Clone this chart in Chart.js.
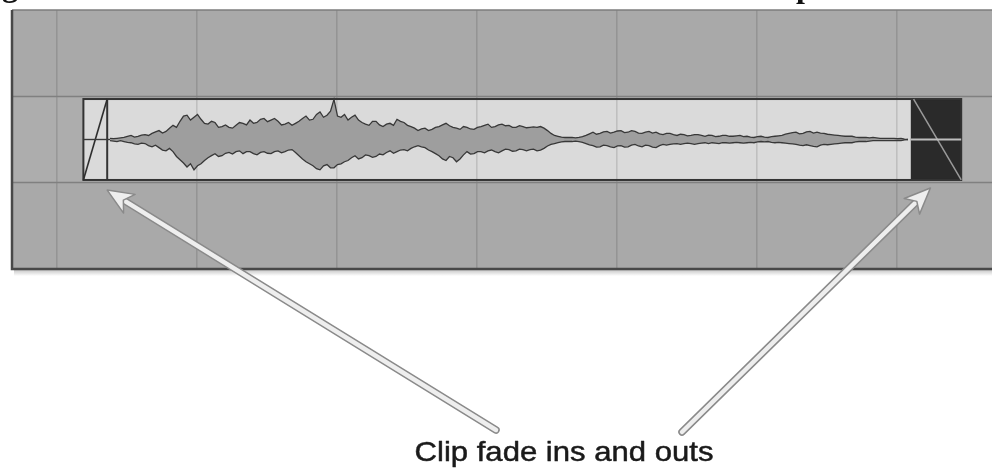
<!DOCTYPE html>
<html>
<head>
<meta charset="utf-8">
<script src="https://cdn.jsdelivr.net/npm/chart.js@4.4.1/dist/chart.umd.min.js"></script>
<style>
  html, body { margin: 0; padding: 0; background: #fff; }
  #wrap { width: 992px; height: 469px; position: relative; }
</style>
</head>
<body>
<div id="wrap"><canvas id="clipChart"></canvas></div>
<script>
// timeline in bars, level in % of clip half-height
const barLines = [1, 2, 3, 4, 5, 6, 7];
const viewStart = 0.68;
const viewEnd = 7.68;
const clipStart = 1.19;
const fadeInEnd = 1.36;
const fadeOutStart = 7.10;
const clipEnd = 7.46;
const trackEdge = 106;

// waveform envelope, one sample every 0.025 bar from waveStart
const waveStart = 1.38;
const waveStep = 0.025;
const waveUpper = [
    3, 2, 3, 4, 5, 8, 10, 6, 8, 11, 12, 10, 15, 19, 22, 16, 20, 28, 35, 30,
    45, 58, 60, 48, 55, 62, 50, 40, 38, 45, 42, 30, 32, 36, 30, 28, 35, 42, 40, 36,
    48, 40, 42, 50, 52, 44, 48, 52, 45, 36, 38, 42, 35, 40, 45, 52, 58, 48, 50, 62,
    68, 55, 60, 70, 99, 58, 55, 62, 48, 55, 60, 48, 42, 38, 35, 45, 45, 36, 32, 38,
    40, 35, 50, 45, 42, 35, 32, 28, 22, 26, 28, 22, 25, 30, 32, 36, 40, 34, 30, 28,
    25, 32, 30, 26, 25, 30, 32, 35, 38, 30, 32, 36, 38, 34, 35, 30, 30, 34, 32, 29,
    30, 31, 30, 32, 28, 22, 15, 10, 8, 6, 5, 5, 5, 4, 5, 7, 10, 14, 18, 13,
    15, 19, 20, 16, 18, 21, 22, 17, 18, 22, 20, 16, 15, 18, 20, 16, 18, 14, 12, 15,
    15, 12, 10, 13, 12, 9, 10, 12, 12, 10, 8, 11, 10, 7, 8, 10, 10, 8, 8, 9,
    10, 7, 8, 6, 5, 7, 8, 6, 5, 7, 8, 9, 10, 13, 15, 17, 18, 14, 15, 19,
    20, 16, 18, 16, 15, 13, 12, 11, 10, 9, 8, 8, 8, 6, 5, 5, 5, 4, 5, 4,
    3, 3, 3, 3, 3, 2, 3, 1, 0
];
const waveLower = [
    3, 4, 5, 3, 5, 7, 8, 11, 12, 9, 10, 15, 18, 14, 20, 26, 28, 22, 30, 42,
    50, 58, 68, 60, 75, 65, 60, 52, 45, 40, 35, 42, 40, 34, 32, 36, 30, 28, 35, 30,
    30, 35, 38, 32, 30, 34, 35, 30, 28, 33, 30, 26, 25, 32, 40, 48, 55, 60, 65, 72,
    75, 65, 62, 70, 70, 62, 60, 55, 52, 45, 40, 48, 45, 38, 40, 44, 42, 36, 38, 32,
    28, 34, 30, 26, 25, 28, 22, 18, 15, 18, 20, 26, 30, 35, 40, 48, 52, 42, 45, 55,
    48, 38, 30, 36, 35, 30, 30, 33, 28, 26, 30, 33, 28, 24, 25, 29, 28, 24, 25, 28,
    25, 24, 28, 26, 22, 16, 12, 10, 8, 6, 5, 5, 5, 4, 5, 7, 10, 13, 15, 19,
    18, 14, 15, 18, 20, 16, 15, 19, 18, 14, 12, 16, 18, 14, 15, 19, 20, 15, 12, 14,
    12, 11, 10, 12, 10, 9, 10, 12, 10, 9, 8, 10, 8, 9, 10, 8, 8, 9, 8, 7,
    8, 9, 8, 7, 8, 6, 5, 6, 5, 7, 8, 7, 8, 9, 10, 11, 12, 14, 15, 13,
    15, 17, 18, 14, 12, 13, 12, 11, 10, 9, 8, 8, 8, 6, 5, 5, 5, 4, 3, 3,
    3, 3, 3, 3, 3, 2, 3, 1, 0
];

const caption = 'Clip fade ins and outs';

const upperPts = waveUpper.map((v, i) => ({ x: waveStart + i * waveStep, y: v }));
const lowerPts = waveLower.map((v, i) => ({ x: waveStart + i * waveStep, y: -v }));

const lineDefaults = { pointRadius: 0, tension: 0, fill: false };

const arrangePlugin = {
    id: 'arrange',
    beforeDraw(chart) {
        const { ctx, chartArea: a, scales: { x, y } } = chart;
        const px = v => x.getPixelForValue(v);
        const py = v => y.getPixelForValue(v);
        ctx.save();
        ctx.fillStyle = '#ffffff';
        ctx.fillRect(0, 0, chart.width, chart.height);

        // panel shadow
        const sh = ctx.createLinearGradient(0, a.bottom, 0, a.bottom + 7);
        sh.addColorStop(0, 'rgba(0,0,0,0.25)');
        sh.addColorStop(1, 'rgba(0,0,0,0)');
        ctx.fillStyle = sh;
        ctx.fillRect(a.left + 2, a.bottom, a.right - a.left, 7);

        // panel
        ctx.fillStyle = '#a9a9a9';
        ctx.fillRect(a.left, a.top, a.right - a.left, a.bottom - a.top);
        ctx.fillStyle = '#adadad';
        ctx.fillRect(a.left, py(trackEdge), a.right - a.left, py(-trackEdge) - py(trackEdge));

        // clip body
        ctx.fillStyle = '#dadada';
        ctx.fillRect(px(clipStart), py(100), px(clipEnd) - px(clipStart), py(-100) - py(100));

        // bar lines
        ctx.strokeStyle = 'rgba(0,0,0,0.13)';
        ctx.lineWidth = 1.5;
        barLines.forEach(b => {
            ctx.beginPath();
            ctx.moveTo(px(b), a.top);
            ctx.lineTo(px(b), a.bottom);
            ctx.stroke();
        });

        // track borders
        ctx.strokeStyle = '#808080';
        ctx.lineWidth = 1.5;
        [trackEdge, -trackEdge].forEach(v => {
            ctx.beginPath();
            ctx.moveTo(a.left, py(v));
            ctx.lineTo(a.right, py(v));
            ctx.stroke();
        });

        // fade out region
        ctx.fillStyle = '#2a2a2a';
        ctx.fillRect(px(fadeOutStart), py(100), px(clipEnd) - px(fadeOutStart), py(-100) - py(100));

        // clip border
        ctx.strokeStyle = '#333333';
        ctx.lineWidth = 2;
        ctx.strokeRect(px(clipStart), py(100), px(clipEnd) - px(clipStart), py(-100) - py(100));
        ctx.beginPath();
        ctx.moveTo(px(fadeInEnd), py(100));
        ctx.lineTo(px(fadeInEnd), py(-100));
        ctx.stroke();

        // panel border
        ctx.strokeStyle = '#7c7c7c';
        ctx.lineWidth = 1.5;
        ctx.beginPath();
        ctx.moveTo(a.left, a.top);
        ctx.lineTo(a.right, a.top);
        ctx.stroke();
        ctx.strokeStyle = '#484848';
        ctx.lineWidth = 2.5;
        ctx.beginPath();
        ctx.moveTo(a.left, a.top);
        ctx.lineTo(a.left, a.bottom);
        ctx.lineTo(a.right, a.bottom);
        ctx.stroke();
        ctx.restore();
    },
    afterDraw(chart) {
        const { ctx, scales: { x, y } } = chart;
        const capX = 564, capY = 461;
        ctx.save();

        // cut-off heading from the page above
        ctx.fillStyle = '#111';
        ctx.font = 'bold 32px "Liberation Serif", "DejaVu Serif", serif';
        ctx.textBaseline = 'alphabetic';
        ctx.fillText('g', 2, -4);
        ctx.fillText('p', 796, -3);

        const arrow = (x0, y0, x1, y1) => {
            const ang = Math.atan2(y1 - y0, x1 - x0);
            const c = Math.cos(ang), s = Math.sin(ang);
            const len = 26, half = 11;
            const bx = x1 - len * c, by = y1 - len * s;
            const nx = -s, ny = c;
            ctx.lineCap = 'round';
            ctx.strokeStyle = '#8a8a8a';
            ctx.lineWidth = 7.5;
            ctx.beginPath();
            ctx.moveTo(x0, y0);
            ctx.lineTo(bx + 4 * c, by + 4 * s);
            ctx.stroke();
            ctx.strokeStyle = '#eeeeee';
            ctx.lineWidth = 4.5;
            ctx.beginPath();
            ctx.moveTo(x0, y0);
            ctx.lineTo(bx + 6 * c, by + 6 * s);
            ctx.stroke();
            ctx.beginPath();
            ctx.moveTo(x1, y1);
            ctx.lineTo(bx + nx * half, by + ny * half);
            ctx.lineTo(bx + 7 * c, by + 7 * s);
            ctx.lineTo(bx - nx * half, by - ny * half);
            ctx.closePath();
            ctx.fillStyle = '#eeeeee';
            ctx.fill();
            ctx.strokeStyle = '#8a8a8a';
            ctx.lineWidth = 1.5;
            ctx.lineJoin = 'round';
            ctx.stroke();
        };
        arrow(capX - 68, capY - 31, x.getPixelForValue(fadeInEnd), y.getPixelForValue(-125));
        arrow(capX + 118, capY - 29, x.getPixelForValue(7.24), y.getPixelForValue(-120));

        // caption, stretched a little to the width of the original lettering
        ctx.translate(capX, capY);
        ctx.scale(1.11, 1);
        ctx.fillStyle = '#1a1a1a';
        ctx.strokeStyle = '#1a1a1a';
        ctx.lineWidth = 0.5;
        ctx.font = '28px "Liberation Sans", Arial, sans-serif';
        ctx.textAlign = 'center';
        ctx.fillText(caption, 0, 0);
        ctx.strokeText(caption, 0, 0);
        ctx.restore();
    }
};

new Chart(document.getElementById('clipChart'), {
    type: 'line',
    data: {
        datasets: [
            { ...lineDefaults, data: upperPts, borderColor: '#383838', borderWidth: 1.3 },
            { ...lineDefaults, data: lowerPts, borderColor: '#383838', borderWidth: 1.3,
              fill: '-1', backgroundColor: '#9e9e9e' },
            { ...lineDefaults, data: [{ x: clipStart, y: 0 }, { x: waveStart, y: 0 }],
              borderColor: '#3a3a3a', borderWidth: 1.4 },
            { ...lineDefaults, data: [{ x: clipStart, y: -100 }, { x: fadeInEnd, y: 100 }],
              borderColor: '#2e2e2e', borderWidth: 1.6 },
            { ...lineDefaults, data: [{ x: fadeOutStart, y: 0 }, { x: clipEnd, y: 0 }],
              borderColor: '#bdbdbd', borderWidth: 2 },
            { ...lineDefaults, data: [{ x: fadeOutStart + 0.02, y: 100 }, { x: clipEnd, y: -100 }],
              borderColor: '#9a9a9a', borderWidth: 1.5 }
        ]
    },
    options: {
        responsive: true,
        maintainAspectRatio: false,
        animation: false,
        layout: { padding: { left: 12, top: 10, right: 0, bottom: 200 } },
        plugins: { legend: { display: false }, tooltip: { enabled: false } },
        scales: {
            x: { type: 'linear', min: viewStart, max: viewEnd, display: false },
            y: { min: -320, max: 320, display: false }
        }
    },
    plugins: [arrangePlugin]
});
</script>
</body>
</html>
